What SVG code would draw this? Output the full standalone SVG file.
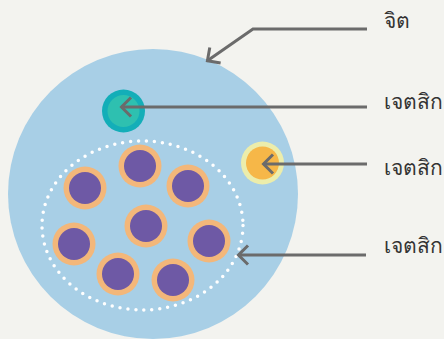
<svg xmlns="http://www.w3.org/2000/svg" width="444" height="339" viewBox="0 0 444 339">
<defs>
<style>
.lbl{font-family:"Noto Sans","DejaVu Sans",sans-serif;font-size:21px;fill:#333333}
.ln{fill:none;stroke:#6b6b6b;stroke-width:3}
.ring{fill:#f3b77a}
.core{fill:#6e59a5}
</style>
<marker id="arr" viewBox="0 0 14 22" refX="12" refY="11" markerWidth="14" markerHeight="22" markerUnits="userSpaceOnUse" orient="auto">
<path d="M2,1.5 L11.5,11 L2,20.5" fill="none" stroke="#6b6b6b" stroke-width="3"/>
</marker>
</defs>
<rect width="444" height="339" fill="#f3f3ef"/>
<g id="cell">
<circle cx="153" cy="194" r="145" fill="#a8cfe6"/>
</g>
<g id="group-boundary">
<ellipse cx="142.5" cy="225.5" rx="100.5" ry="84.5" fill="none" stroke="#ffffff" stroke-width="3.5" stroke-linecap="round" stroke-dasharray="0 8"/>
</g>
<g id="teal">
<circle cx="123.5" cy="111" r="21.5" fill="#13aeb8"/>
<circle cx="123.5" cy="111" r="16" fill="#2ec0b0"/>
</g>
<g id="yellow">
<circle cx="262.5" cy="163" r="21.5" fill="#ecedab"/>
<circle cx="262.5" cy="163" r="16.5" fill="#f6b748"/>
</g>
<g id="purple">
<g id="p1"><circle class="ring" cx="140" cy="166" r="21.5"/><circle class="core" cx="140" cy="166" r="16"/></g>
<g id="p2"><circle class="ring" cx="85" cy="188" r="21.5"/><circle class="core" cx="85" cy="188" r="16"/></g>
<g id="p3"><circle class="ring" cx="188" cy="186" r="21.5"/><circle class="core" cx="188" cy="186" r="16"/></g>
<g id="p4"><circle class="ring" cx="146" cy="226" r="21.5"/><circle class="core" cx="146" cy="226" r="16"/></g>
<g id="p5"><circle class="ring" cx="74" cy="244" r="21.5"/><circle class="core" cx="74" cy="244" r="16"/></g>
<g id="p6"><circle class="ring" cx="209" cy="241" r="21.5"/><circle class="core" cx="209" cy="241" r="16"/></g>
<g id="p7"><circle class="ring" cx="118" cy="274" r="21.5"/><circle class="core" cx="118" cy="274" r="16"/></g>
<g id="p8"><circle class="ring" cx="173" cy="280" r="21.5"/><circle class="core" cx="173" cy="280" r="16"/></g>
</g>
<g id="connectors">
<polyline class="ln" points="367,29 253,29 207,61" marker-end="url(#arr)"/>
<line class="ln" x1="367" y1="107" x2="121" y2="107" marker-end="url(#arr)"/>
<line class="ln" x1="367" y1="164" x2="263" y2="164" marker-end="url(#arr)"/>
<line class="ln" x1="366" y1="255" x2="238" y2="255" marker-end="url(#arr)"/>
</g>
<g id="labels">
<text class="lbl" x="384" y="28">จิต</text>
<text class="lbl" x="384" y="109">เจตสิก</text>
<text class="lbl" x="384" y="175">เจตสิก</text>
<text class="lbl" x="384" y="253">เจตสิก</text>
</g>
</svg>
